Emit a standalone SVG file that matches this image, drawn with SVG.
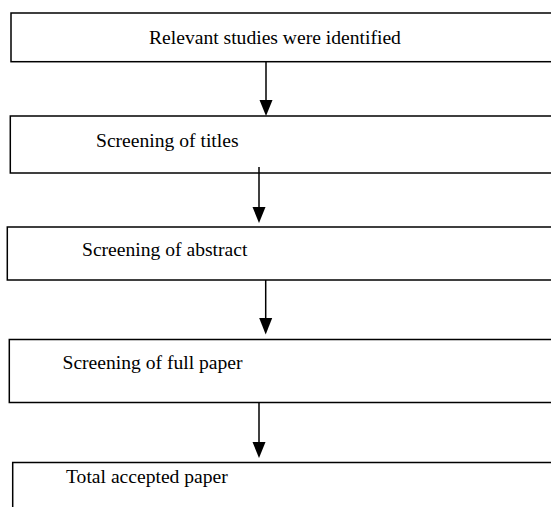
<svg xmlns="http://www.w3.org/2000/svg" width="551" height="507" viewBox="0 0 551 507">
<defs>
<style>
.box{fill:#fff;stroke:#000;stroke-width:1.5}
.lbl{font-family:"Liberation Serif","Times New Roman",serif;font-size:19.6px;fill:#000}
.conn{stroke:#000;stroke-width:1.5;fill:none}
.head{fill:#000;stroke:none}
</style>
</defs>
<rect width="551" height="507" fill="#fff"/>
<g id="node1"><rect class="box" x="11" y="13" width="600" height="48.7"/><text class="lbl" x="149" y="44">Relevant studies were identified</text></g>
<g id="node2"><rect class="box" x="10.3" y="116" width="600" height="57"/><text class="lbl" x="96" y="147">Screening of titles</text></g>
<g id="node3"><rect class="box" x="7.3" y="227" width="600" height="53"/><text class="lbl" x="82" y="256">Screening of abstract</text></g>
<g id="node4"><rect class="box" x="9.3" y="339.5" width="600" height="63"/><text class="lbl" x="62.5" y="369">Screening of full paper</text></g>
<g id="node5"><rect class="box" x="12.7" y="462.5" width="600" height="60"/><text class="lbl" x="66" y="483">Total accepted paper</text></g>
<g id="connectors">
<line class="conn" x1="266" y1="61.7" x2="266" y2="102"/><polygon class="head" points="259.5,100 272.5,100 266,116"/>
<line class="conn" x1="259" y1="167" x2="259" y2="209"/><polygon class="head" points="252.5,207 265.5,207 259,223"/>
<line class="conn" x1="265.7" y1="280" x2="265.7" y2="320"/><polygon class="head" points="259.2,318 272.2,318 265.7,334.5"/>
<line class="conn" x1="259" y1="402.5" x2="259" y2="444"/><polygon class="head" points="252.5,442 265.5,442 259,458"/>
</g>
</svg>
